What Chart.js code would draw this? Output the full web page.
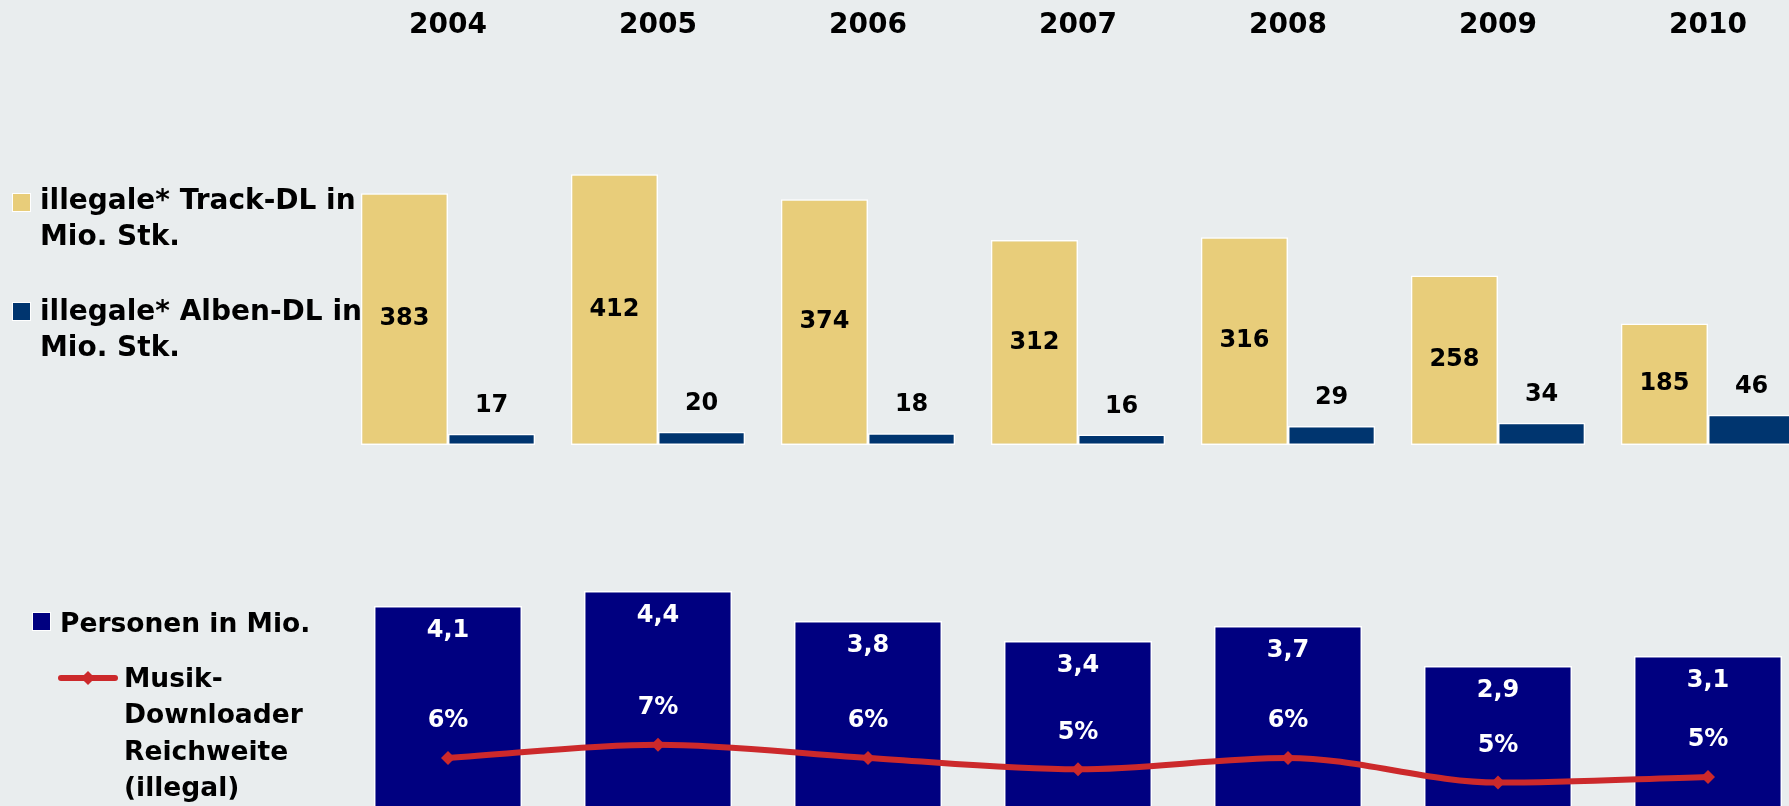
<!DOCTYPE html>
<html lang="de">
<head>
<meta charset="utf-8">
<title>Illegale Downloads 2004-2010</title>
<script src="https://cdn.jsdelivr.net/npm/chart.js@4.4.1/dist/chart.umd.min.js"></script>
<style>
    html, body { margin: 0; padding: 0; }
    body {
        width: 1789px;
        height: 806px;
        overflow: hidden;
        position: relative;
        background: #e9edee;
        font-family: "DejaVu Sans", Verdana, sans-serif;
        font-weight: bold;
        color: #000;
    }
    canvas { position: absolute; left: 0; }
    .txt { position: absolute; font-size: 28px; line-height: 36px; white-space: nowrap; }
    .box { position: absolute; width: 17px; height: 17px; border: 1px solid #fff; }
</style>
</head>
<body>

<canvas id="dlChart" width="1830" height="470" style="top:0"></canvas>
<canvas id="personChart" width="1830" height="345" style="top:480px"></canvas>

<!-- Legende oben -->
<div class="box" style="left:12px;top:193px;background:#e8cd7a"></div>
<div class="txt" style="left:40px;top:182px">illegale* Track-DL in<br>Mio. Stk.</div>
<div class="box" style="left:12px;top:302px;background:#00356f"></div>
<div class="txt" style="left:40px;top:293px">illegale* Alben-DL in<br>Mio. Stk.</div>

<!-- Legende unten -->
<div class="box" style="left:32px;top:612px;background:#000080"></div>
<div class="txt" style="left:60px;top:605px;font-size:26.5px">Personen in Mio.</div>
<div style="position:absolute;left:58px;top:675px;width:60px;height:6px;border-radius:3px;background:#cc292b"></div>
<div style="position:absolute;left:83px;top:673px;width:10px;height:10px;background:#cc292b;transform:rotate(45deg)"></div>
<div class="txt" style="left:124px;top:660px;line-height:36.3px;font-size:26.5px">Musik-<br>Downloader<br>Reichweite<br>(illegal)</div>

<script>
// Daten
const YEARS = ['2004', '2005', '2006', '2007', '2008', '2009', '2010'];
const TRACKS = [383, 412, 374, 312, 316, 258, 185];   // Mio. Stk.
const ALBEN = [17, 20, 18, 16, 29, 34, 46];           // Mio. Stk.
const PERSONEN = [4.1, 4.4, 3.8, 3.4, 3.7, 2.9, 3.1]; // Mio.
const REICHWEITE = [5.9, 6.6, 5.9, 5.3, 5.9, 4.6, 4.9]; // Prozent

const YELLOW = '#e8cd7a';
const DARKBLUE = '#00356f';
const NAVY = '#000080';
const RED = '#cc292b';
const FONT = '"DejaVu Sans", Verdana, sans-serif';

// Zahlen an die Balken/Punkte schreiben
const valueLabels = {
    id: 'valueLabels',
    afterDatasetsDraw(chart) {
        const ctx = chart.ctx;
        chart.data.datasets.forEach((ds, i) => {
            const lab = ds.valueLabel;
            if (!lab) return;
            const meta = chart.getDatasetMeta(i);
            ctx.save();
            ctx.font = 'bold ' + lab.size + 'px ' + FONT;
            ctx.fillStyle = lab.color;
            ctx.textAlign = 'center';
            ctx.textBaseline = 'middle';
            meta.data.forEach((el, j) => {
                const v = ds.data[j];
                let y;
                if (lab.pos === 'center') y = (el.y + el.base) / 2;
                else y = el.y + lab.offset;
                ctx.fillText(lab.format(v), el.x, y);
            });
            ctx.restore();
        });
    }
};

const PAD_X = { left: 343, right: 17 };

// oberes Diagramm: Track- und Alben-Downloads
new Chart(document.getElementById('dlChart'), {
    type: 'bar',
    data: {
        labels: YEARS,
        datasets: [{
            label: 'illegale* Track-DL in Mio. Stk.',
            data: TRACKS,
            backgroundColor: YELLOW,
            borderColor: '#fff',
            borderWidth: 1.5,
            borderSkipped: false,
            valueLabel: { pos: 'center', size: 24, color: '#000', format: v => String(v) }
        }, {
            label: 'illegale* Alben-DL in Mio. Stk.',
            data: ALBEN,
            backgroundColor: DARKBLUE,
            borderColor: '#fff',
            borderWidth: 1.5,
            borderSkipped: false,
            valueLabel: { pos: 'top', offset: -28, size: 24, color: '#000', format: v => String(v) }
        }]
    },
    options: {
        responsive: false,
        animation: false,
        layout: { padding: { left: PAD_X.left, right: PAD_X.right, top: 1, bottom: 25 } },
        datasets: { bar: { categoryPercentage: 0.83, barPercentage: 1.0 } },
        scales: {
            x: {
                position: 'top',
                grid: { display: false },
                border: { display: false },
                ticks: { color: '#000', padding: 8, font: { family: FONT, size: 28, weight: 'bold' } }
            },
            y: { display: false, min: 0, max: 588 }
        },
        plugins: { legend: { display: false }, tooltip: { enabled: false } }
    },
    plugins: [valueLabels]
});

// unteres Diagramm: Personen und Reichweite
new Chart(document.getElementById('personChart'), {
    type: 'bar',
    data: {
        labels: YEARS,
        datasets: [{
            type: 'line',
            label: 'Musik-Downloader Reichweite (illegal)',
            data: REICHWEITE,
            yAxisID: 'y2',
            order: 0,
            borderColor: RED,
            backgroundColor: RED,
            borderWidth: 6,
            cubicInterpolationMode: 'monotone',
            pointStyle: 'rectRot',
            pointRadius: 7,
            pointBorderWidth: 0,
            valueLabel: { pos: 'top', offset: -37, size: 24, color: '#fff', format: v => Math.round(v) + '%' }
        }, {
            label: 'Personen in Mio.',
            data: PERSONEN,
            yAxisID: 'y',
            order: 1,
            backgroundColor: NAVY,
            borderColor: '#fff',
            borderWidth: 1.5,
            borderSkipped: false,
            barPercentage: 0.705,
            categoryPercentage: 1.0,
            valueLabel: { pos: 'top', offset: 25, size: 24, color: '#fff', format: v => v.toFixed(1).replace('.', ',') }
        }]
    },
    options: {
        responsive: false,
        animation: false,
        layout: { padding: { left: PAD_X.left, right: PAD_X.right, top: 81, bottom: 14 } },
        scales: {
            x: { display: false },
            y: { display: false, min: 0, max: 5 },
            y2: { display: false, min: 3.1, max: 16.3 }
        },
        plugins: { legend: { display: false }, tooltip: { enabled: false } }
    },
    plugins: [valueLabels]
});
</script>
</body>
</html>
